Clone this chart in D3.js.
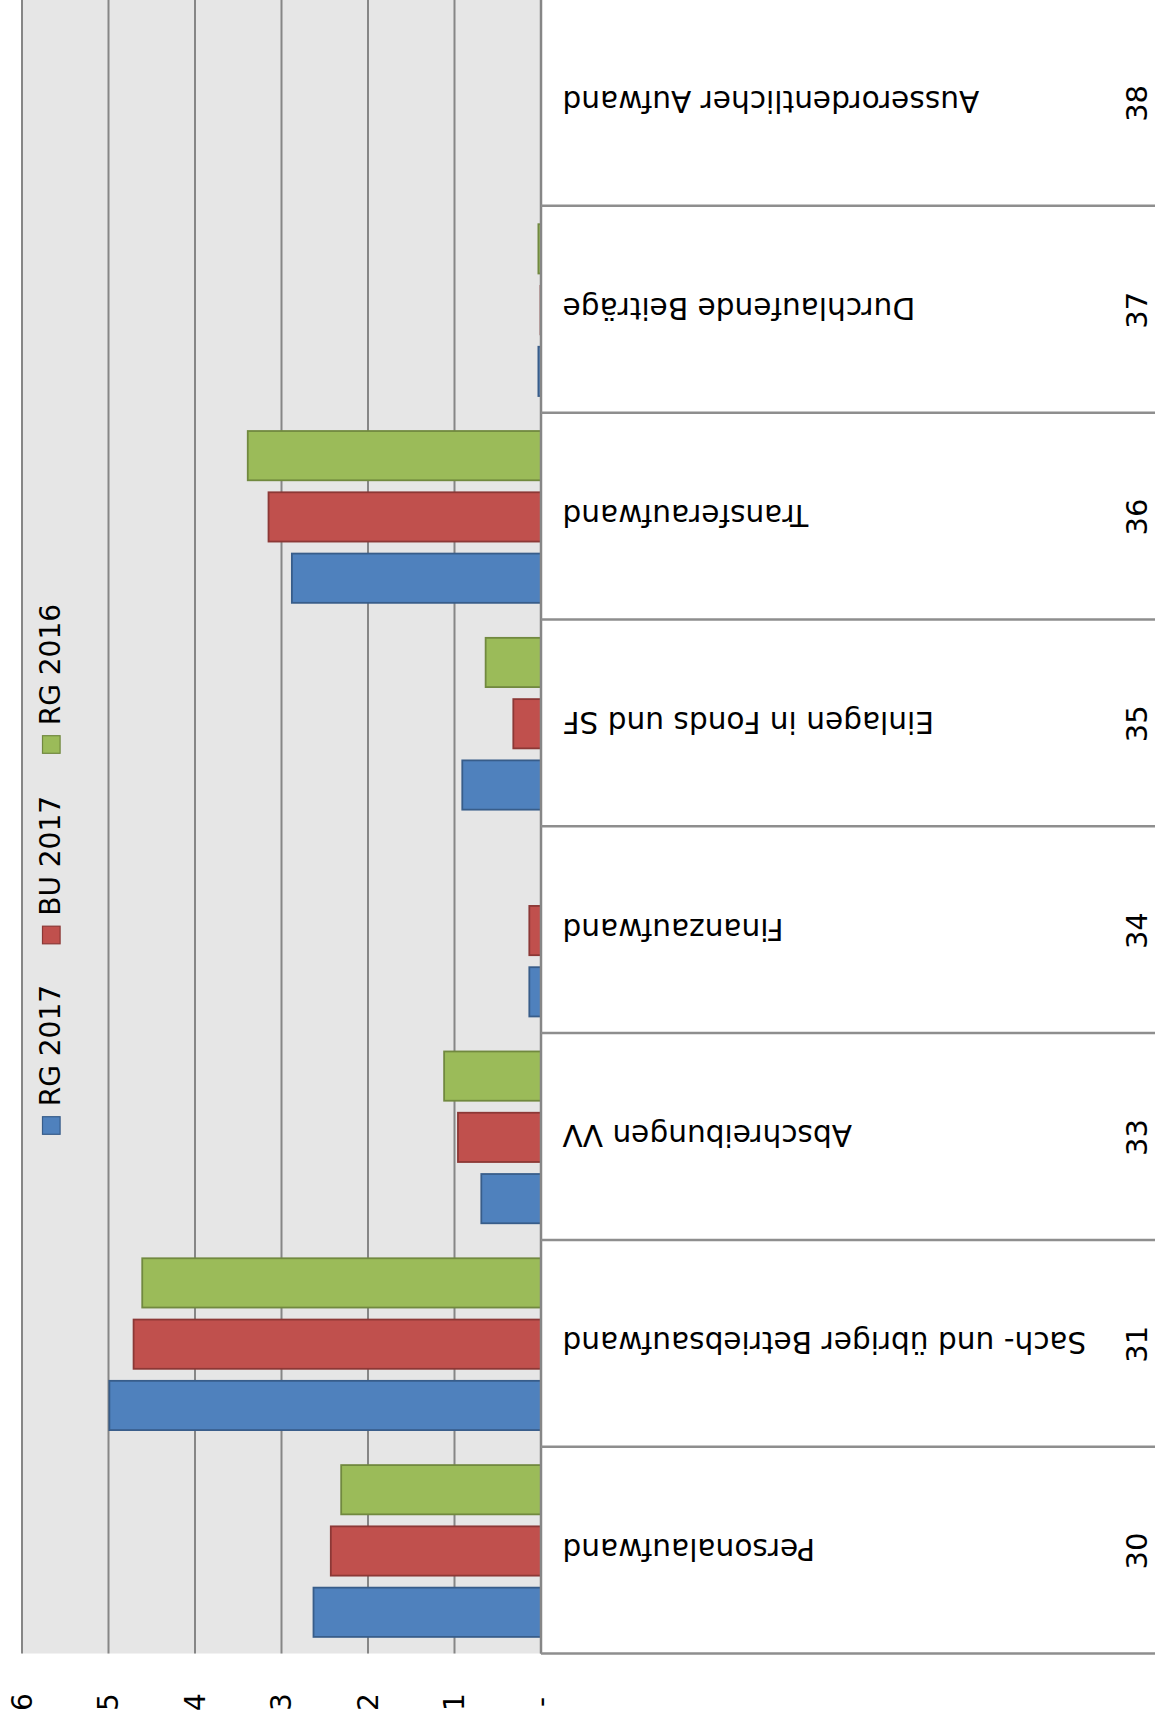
<!DOCTYPE html>
<html>
<head>
<meta charset="utf-8">
<script src="https://cdn.jsdelivr.net/npm/d3@7"></script>
<style>
  body { margin: 0; background: #fff; }
  svg text { font-family: "DejaVu Sans", Verdana, sans-serif; fill: #000; }
</style>
</head>
<body>
<div id="chart"></div>
<script>
// chart data (the picture is the Excel column chart turned on its side)
var codes = ["30", "31", "33", "34", "35", "36", "37", "38"];
var names = ["Personalaufwand", "Sach- und übriger Betriebsaufwand", "Abschreibungen VV",
             "Finanzaufwand", "Einlagen in Fonds und SF", "Transferaufwand",
             "Durchlaufende Beiträge", "Ausserordentlicher Aufwand"];
var seriesNames = ["RG 2017", "BU 2017", "RG 2016"];
var rg2017 = [2.63, 4.99, 0.69, 0.135, 0.91, 2.88, 0.03, 0];
var bu2017 = [2.43, 4.71, 0.96, 0.135, 0.32, 3.15, 0.01, 0];
var rg2016 = [2.31, 4.61, 1.12, 0.005, 0.64, 3.39, 0.03, 0];
var ticks = [0, 1, 2, 3, 4, 5, 6];
var tickLabels = ["-", "1", "2", "3", "4", "5", "6"];

var fills = ["#4F81BD", "#C0504D", "#9BBB59"];
var strokes = ["#385D8A", "#8C3836", "#71893F"];

var W = 1155, H = 1726;
var plotLeft = 22, plotRight = 541, plotTop = -1, plotBottom = 1653.5;

var svg = d3.select("#chart")
  .append("svg")
    .attr("width", W)
    .attr("height", H);

// value axis runs right to left, categories bottom to top
var x = d3.scaleLinear()
  .domain([0, 6])
  .range([plotRight, plotLeft]);

var y = d3.scaleBand()
  .domain(codes.slice().reverse())
  .range([plotTop, plotBottom]);

var ySeries = d3.scaleBand()
  .domain(seriesNames.slice().reverse())
  .range([18.4, y.bandwidth() - 16.6])
  .paddingInner(0.196);

// plot background
svg.append("rect")
  .attr("x", plotLeft)
  .attr("y", 0)
  .attr("width", plotRight - plotLeft)
  .attr("height", plotBottom)
  .style("fill", "#E6E6E6");

// gridlines
svg.append("g")
  .selectAll("line")
  .data(ticks)
  .join("line")
    .attr("x1", d => x(d))
    .attr("x2", d => x(d))
    .attr("y1", 0)
    .attr("y2", plotBottom)
    .style("stroke", "#868686")
    .style("stroke-width", 2);

// tick labels
svg.append("g")
  .selectAll("text")
  .data(ticks)
  .join("text")
    .attr("transform", d => "translate(" + x(d) + ",1702) rotate(-90)")
    .attr("text-anchor", "middle")
    .attr("dominant-baseline", "central")
    .style("font-size", "28px")
    .text((d, i) => tickLabels[i]);

// bars
var table = codes.map((c, i) => ({code: c, values: [rg2017[i], bu2017[i], rg2016[i]]}));

var groups = svg.append("g")
  .selectAll("g")
  .data(table)
  .join("g")
    .attr("transform", d => "translate(0," + y(d.code) + ")");

groups.selectAll("rect")
  .data(d => d.values.map((v, k) => ({v: v, k: k})))
  .join("rect")
    .attr("x", d => x(d.v))
    .attr("y", d => ySeries(seriesNames[d.k]))
    .attr("width", d => x(0) - x(d.v))
    .attr("height", ySeries.bandwidth())
    .style("fill", d => fills[d.k])
    .style("stroke", d => strokes[d.k])
    .style("stroke-width", d => d.v > 0.02 ? 1.8 : 1);

// category table
var cat = svg.append("g");
cat.append("line")
  .attr("x1", plotRight).attr("x2", plotRight)
  .attr("y1", 0).attr("y2", plotBottom)
  .style("stroke", "#868686").style("stroke-width", 2.5);

cat.selectAll(".divider")
  .data(codes)
  .join("line")
    .attr("class", "divider")
    .attr("x1", plotRight).attr("x2", W)
    .attr("y1", d => y(d) + y.bandwidth())
    .attr("y2", d => y(d) + y.bandwidth())
    .style("stroke", "#8e8e8e")
    .style("stroke-width", 2.5);

cat.selectAll(".name")
  .data(codes)
  .join("text")
    .attr("class", "name")
    .attr("transform", d => "translate(562.5," + (y(d) + y.bandwidth() / 2 - 1) + ") rotate(180)")
    .attr("text-anchor", "end")
    .attr("dominant-baseline", "central")
    .style("font-size", "29.6px")
    .text((d, i) => names[i]);

cat.selectAll(".code")
  .data(codes)
  .join("text")
    .attr("class", "code")
    .attr("transform", d => "translate(1136.5," + (y(d) + y.bandwidth() / 2 + 1) + ") rotate(-90)")
    .attr("text-anchor", "middle")
    .attr("dominant-baseline", "central")
    .style("font-size", "29px")
    .text(d => d);

// legend
var legend = svg.append("g")
  .selectAll("g")
  .data(seriesNames)
  .join("g")
    .attr("transform", (d, i) => "translate(0," + (1134.3 - i * 190.5) + ")");

legend.append("rect")
  .attr("x", 42.5)
  .attr("y", -17.6)
  .attr("width", 17.6)
  .attr("height", 17.6)
  .style("fill", (d, i) => fills[i])
  .style("stroke", (d, i) => strokes[i])
  .style("stroke-width", 1.2);

legend.append("text")
  .attr("transform", "translate(60,-28) rotate(-90)")
  .style("font-size", "28px")
  .text(d => d);
</script>
</body>
</html>
